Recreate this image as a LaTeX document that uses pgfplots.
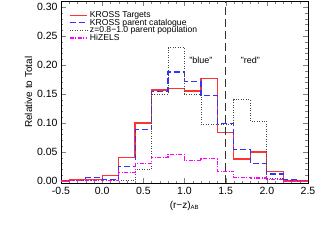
\documentclass[border=0pt]{standalone}
\usepackage{pgfplots}
\pgfplotsset{compat=1.18}
\usepackage{fontspec}
\setmainfont{Liberation Sans}
\definecolor{kred}{RGB}{255,50,50}
\definecolor{kblue}{RGB}{50,50,255}
\definecolor{kgray}{RGB}{70,70,70}
\definecolor{kmag}{RGB}{255,0,255}
\begin{document}
\begin{tikzpicture}
\begin{axis}[
  at={(0,0)}, anchor=south west,
  scale only axis, width=247pt, height=182pt,
  xmin=-0.5, xmax=2.5, ymin=-0.004, ymax=0.31,
  xtick={-0.5,0,0.5,1,1.5,2,2.5},
  ytick={0,0.05,0.1,0.15,0.2,0.25,0.3},
  minor x tick num=4, minor y tick num=4,
  tick align=inside, major tick length=5pt, minor tick length=2.5pt,
  /pgf/number format/assume math mode=true,
  xticklabel style={/pgf/number format/.cd,fixed,fixed zerofill,precision=1},
  yticklabel style={/pgf/number format/.cd,fixed,fixed zerofill,precision=2},
  ticklabel style={font=\fontsize{10.5}{11}\selectfont},
  xlabel={(r−z)\textsubscript{\fontsize{6}{6}\selectfont AB}}, ylabel={Relative to Total},
  label style={font=\fontsize{10}{11}\selectfont},
  ylabel style={yshift=-2pt},
  axis line style={line width=0.7pt},
  legend style={at={(0.02,0.96)}, anchor=north west, draw=none, fill=none,
    font=\fontsize{8.6}{9}\selectfont, row sep=-2.2pt,
    nodes={inner ysep=1pt, inner xsep=2pt}},
  legend cell align=left,
  legend image code/.code={\draw[#1] (0cm,0cm) -- (0.62cm,0cm);},
]
\addplot[const plot mark left, draw=kred, line width=1.2pt] coordinates {
(-0.5,0.0) (-0.4,0.002) (-0.2,0.002) (0.0,0.010) (0.2,0.040) (0.4,0.100) (0.6,0.157)
(0.8,0.160) (1.0,0.155) (1.2,0.177) (1.4,0.083) (1.6,0.038) (1.8,0.050)
(2.0,0.016) (2.2,0.0) (2.5,0.0)};
\addlegendentry{KROSS Targets}
\addplot[const plot mark left, draw=kblue, line width=1.1pt, dash pattern=on 6pt off 3pt] coordinates {
(-0.5,0.0) (-0.4,0.001) (-0.2,0.006) (0.0,0.003) (0.2,0.025) (0.4,0.088) (0.6,0.155)
(0.8,0.188) (1.0,0.172) (1.2,0.148) (1.4,0.099) (1.6,0.054) (1.8,0.030)
(2.0,0.012) (2.2,0.003) (2.4,0.0) (2.5,0.0)};
\addlegendentry{KROSS parent catalogue}
\addplot[const plot mark left, draw=kgray, line width=0.9pt, dash pattern=on 0.9pt off 1.6pt] coordinates {
(-0.5,0.0) (0.4,0.020) (0.6,0.150) (0.8,0.230) (1.0,0.150) (1.2,0.097)
(1.4,0.097) (1.6,0.140) (1.8,0.103) (2.0,0.005) (2.2,0.0) (2.5,0.0)};
\addlegendentry{z=0.8−1.0 parent population}
\addplot[const plot mark left, draw=kmag, line width=1.1pt, dash pattern=on 4pt off 1.5pt on 1pt off 1.5pt] coordinates {
(-0.5,0.0) (0.0,0.001) (0.2,0.015) (0.4,0.030) (0.6,0.041) (0.8,0.046)
(1.0,0.036) (1.2,0.038) (1.4,0.017) (1.6,0.006) (1.8,0.005) (2.0,0.003)
(2.2,0.0) (2.5,0.0)};
\addlegendentry{HiZELS}
\addplot[draw=black!80, line width=0.9pt, dash pattern=on 8pt off 4pt, forget plot] coordinates {(1.5,-0.004) (1.5,0.31)};
\node[font=\fontsize{9}{10}\selectfont] at (axis cs:1.2,0.208) {"blue"};
\node[font=\fontsize{9}{10}\selectfont] at (axis cs:1.8,0.208) {"red"};
\end{axis}
\path[use as bounding box] (-61pt,-53pt) rectangle (266pt,9pt);
\end{tikzpicture}
\end{document}
